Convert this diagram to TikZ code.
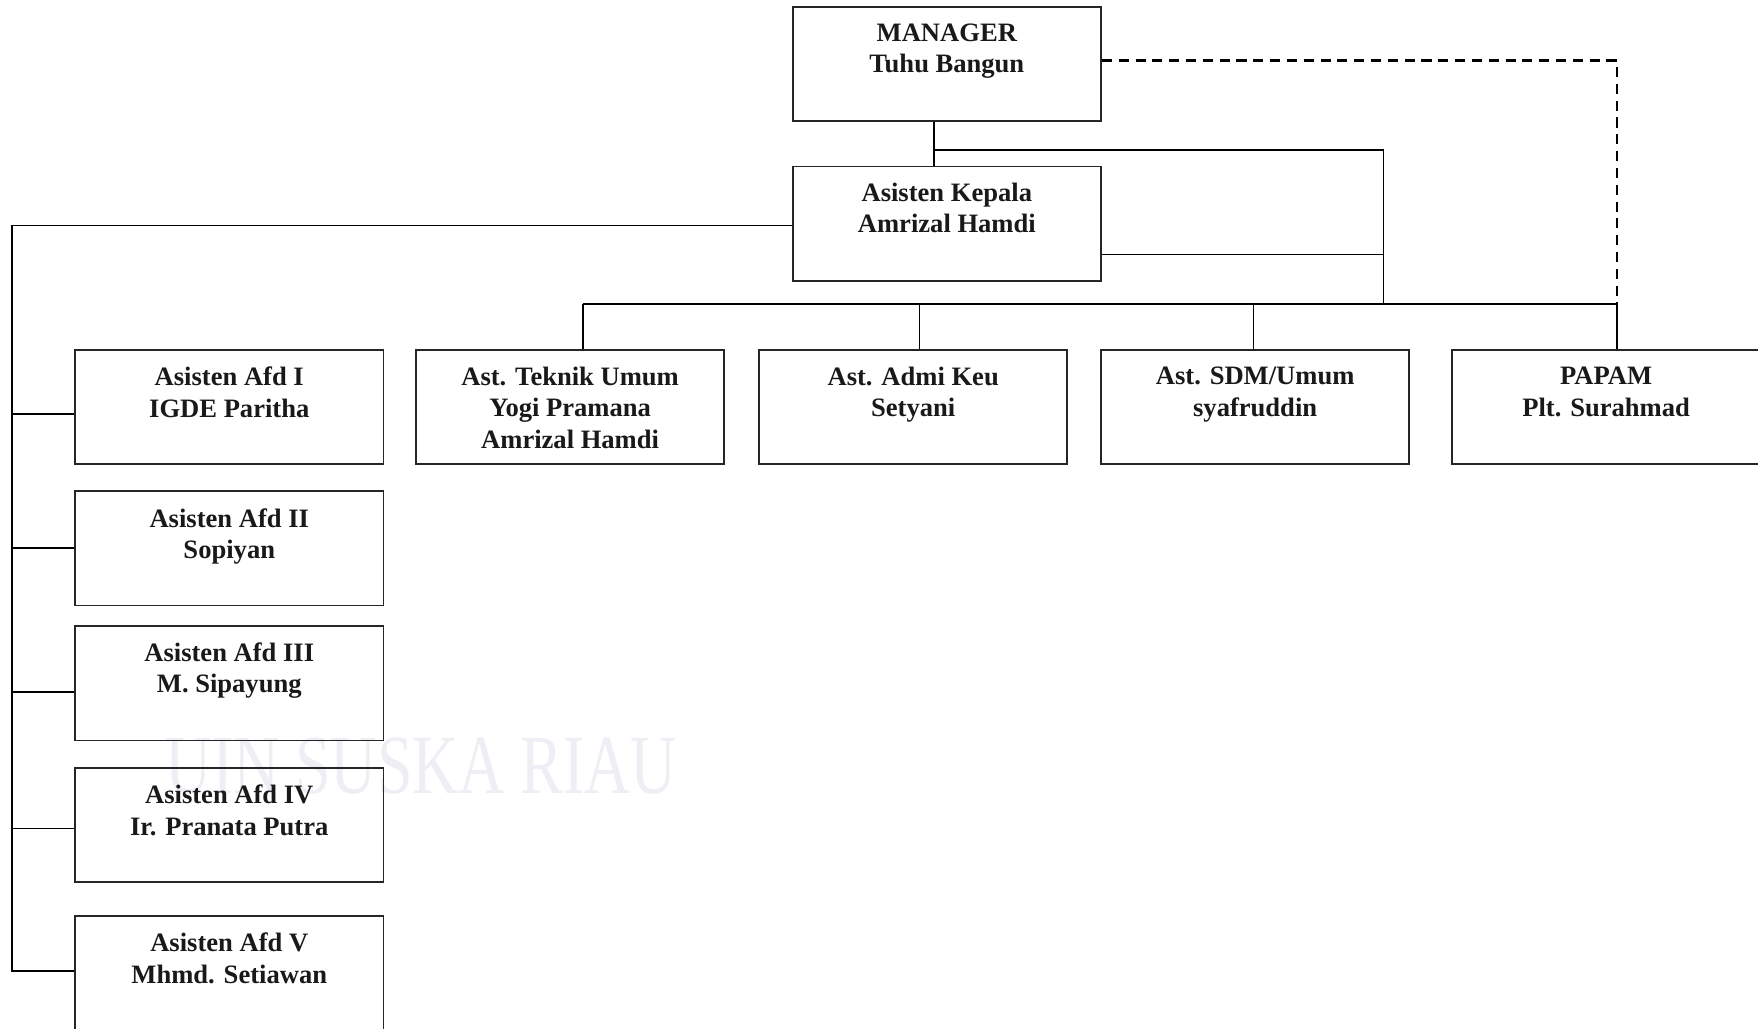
\documentclass[tikz,border=0pt]{standalone}
\usepackage{fontspec}
\setmainfont{Liberation Serif}
\definecolor{wm}{RGB}{238,238,245}
\begin{document}
\begin{tikzpicture}[x=1pt,y=-1pt,
  box/.style={draw=black!85, line width=1.6pt, minimum width=275pt, minimum height=102pt, inner sep=0pt},
  txt/.style={font=\fontsize{23.7}{28}\selectfont\bfseries, align=center, inner sep=0pt, anchor=north, text=black!90},
  con/.style={line width=1.5pt, black},
  dashcon/.style={line width=2pt, black, dash pattern=on 9pt off 6pt}]
\useasboundingbox (0,0) rectangle (1568,917);
% watermark
\node[font=\fontsize{60}{60}\selectfont, text=wm, inner sep=0pt] (wmt) at (376,683) {\scalebox{0.95}[1.25]{UIN SUSKA RIAU}};
% boxes
\node[box] (m)  at (844.5,57) {};
\node[txt] (mt) at ([yshift=-16pt]m.north) {MANAGER\\Tuhu Bangun};
\node[box] (k)  at (844.5,199.5) {};
\node[txt] (kt) at ([yshift=-15pt]k.north) {Asisten Kepala\\Amrizal Hamdi};
\node[box] (a1) at (204.5,363) {};
\node[txt] (a1t) at ([yshift=-16pt]a1.north) {Asisten Afd I\\IGDE Paritha};
\node[box] (t)  at (508.5,363) {};
\node[txt] (tt) at ([yshift=-16pt]t.north) {Ast. Teknik Umum\\Yogi Pramana\\Amrizal Hamdi};
\node[box] (ad) at (814.5,363) {};
\node[txt] (adt) at ([yshift=-16pt]ad.north) {Ast. Admi Keu\\Setyani};
\node[box] (s)  at (1119.5,363) {};
\node[txt] (st) at ([yshift=-16pt]s.north) {Ast. SDM/Umum\\syafruddin};
\node[box] (p)  at (1432.5,363) {};
\node[txt] (pt) at ([yshift=-16pt]p.north) {PAPAM\\Plt. Surahmad};
\node[box] (a2) at (204.5,489) {};
\node[txt] (a2t) at ([yshift=-16pt]a2.north) {Asisten Afd II\\Sopiyan};
\node[box] (a3) at (204.5,609.5) {};
\node[txt] (a3t) at ([yshift=-15pt]a3.north) {Asisten Afd III\\M. Sipayung};
\node[box] (a4) at (204.5,736) {};
\node[txt] (a4t) at ([yshift=-16pt]a4.north) {Asisten Afd IV\\Ir. Pranata Putra};
\node[box] (a5) at (204.5,868) {};
\node[txt] (a5t) at ([yshift=-16pt]a5.north) {Asisten Afd V\\Mhmd. Setiawan};
% coordinates
\coordinate (j1) at (833,134);
\coordinate (j2) at (1234,134);
\coordinate (j3) at (1234,271);
\coordinate (bl) at (520,271);
\coordinate (br) at (1442,271);
\coordinate (lt) at (11,201);
\coordinate (lb) at (11,866);
% connectors
\draw[con] ([xshift=-11.5pt]m.south) -- ([xshift=-11.5pt]k.north);
\draw[con] (j1) -- (j2) -- (j3);
\draw[con] ([yshift=-27.5pt]k.east) -- ++(252,0);
\draw[con] (bl) -- (br);
\draw[con] (bl) -- ([xshift=11.5pt]t.north);
\draw[con] ([xshift=5.5pt]ad.north) -- ++(0,-41);
\draw[con] ([xshift=-1.5pt]s.north) -- ++(0,-41);
\draw[con] (br) -- ([xshift=9.5pt]p.north);
\draw[dashcon] ([yshift=3pt]m.east) -| (br);
\draw[con] ([yshift=-1.5pt]k.west) -- (lt) -- (lb);
\draw[con] ([yshift=-6pt]a1.west) -- ++(-56,0);
\draw[con] (a2.west) -- ++(-56,0);
\draw[con] ([yshift=-7.5pt]a3.west) -- ++(-56,0);
\draw[con] ([yshift=-3pt]a4.west) -- ++(-56,0);
\draw[con] ([yshift=2pt]a5.west) -- ++(-56,0);
\end{tikzpicture}
\end{document}
